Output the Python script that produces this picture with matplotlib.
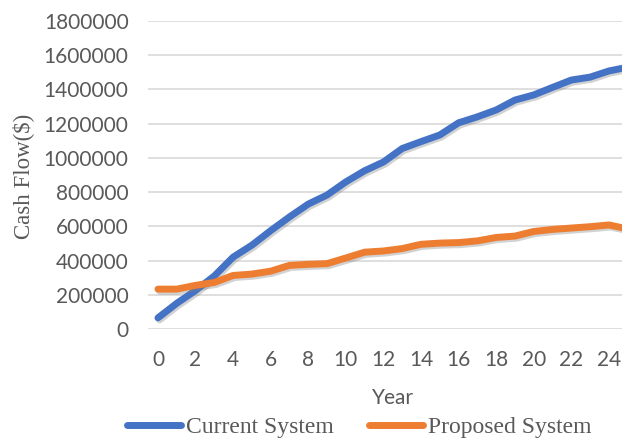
import matplotlib
matplotlib.use("Agg")
import matplotlib.pyplot as plt
import matplotlib.patheffects as pe

years = list(range(0, 26))
current_system = [65000, 150000, 225000, 310000, 420000, 490000, 575000, 655000, 730000, 783000,
                  860000, 925000, 976000, 1055000, 1095000, 1134000, 1205000, 1240000, 1280000,
                  1338000, 1368000, 1412000, 1455000, 1472000, 1508000, 1530000]
proposed_system = [233000, 233000, 255000, 272000, 313000, 321000, 338000, 372000, 378000, 382000,
                   415000, 449000, 456000, 470000, 495000, 502000, 505000, 515000, 535000,
                   543000, 570000, 582000, 590000, 598000, 608000, 585000]
y_ticks = list(range(0, 1800001, 200000))
x_ticks = list(range(0, 25, 2))

W, H = 622, 442
fig = plt.figure(figsize=(W / 100, H / 100), dpi=100)
left, right, top, bottom = 148, 639, 21, 329
ax = fig.add_axes([left / W, 1 - bottom / H, (right - left) / W, (bottom - top) / H])

blue = "#4472C4"
orange = "#ED7D31"
shadow = [pe.SimpleLineShadow(offset=(1.2, -1.5), shadow_color="#808080", alpha=0.35), pe.Normal()]

ax.plot(years, current_system, color=blue, lw=5, solid_capstyle="round",
        solid_joinstyle="round", label="Current System", path_effects=shadow, zorder=3)
ax.plot(years, proposed_system, color=orange, lw=5, solid_capstyle="round",
        solid_joinstyle="round", label="Proposed System", path_effects=shadow, zorder=3)

ax.set_xlim(-0.53, 25.6)
ax.set_ylim(0, 1800000)
ax.set_yticks(y_ticks)
ax.set_yticklabels([str(v) for v in y_ticks])
ax.set_xticks(x_ticks)
ax.set_xticklabels([str(v) for v in x_ticks])
ax.grid(axis="y", color="#D9D9D9", lw=1.2)
ax.set_axisbelow(True)
for s in ax.spines.values():
    s.set_visible(False)
ax.tick_params(axis="both", length=0, labelcolor="#595959")
ax.tick_params(axis="y", pad=14)
ax.tick_params(axis="x", pad=15)
for lab in ax.get_xticklabels() + ax.get_yticklabels():
    lab.set_fontfamily("Lato")
    lab.set_fontsize(15)

fig.text(23 / W, 1 - 176 / H, "Cash Flow($)", rotation=90, ha="center", va="center",
         family="Liberation Serif", fontsize=16.5, color="#595959")
fig.text(393 / W, 1 - 398 / H, "Year", ha="center", va="center",
         family="Lato", fontsize=15, color="#595959")

leg = fig.legend(loc="center", bbox_to_anchor=(359 / W, 1 - 427 / H), ncol=2, frameon=False,
                 prop={"family": "Liberation Serif", "size": 17}, handlelength=2.3,
                 handletextpad=0.2, columnspacing=1.5, borderpad=0)
for t in leg.get_texts():
    t.set_color("#595959")
for h in leg.get_lines():
    h.set_linewidth(5)
    h.set_path_effects([])

fig.savefig("out.png", dpi=100)
